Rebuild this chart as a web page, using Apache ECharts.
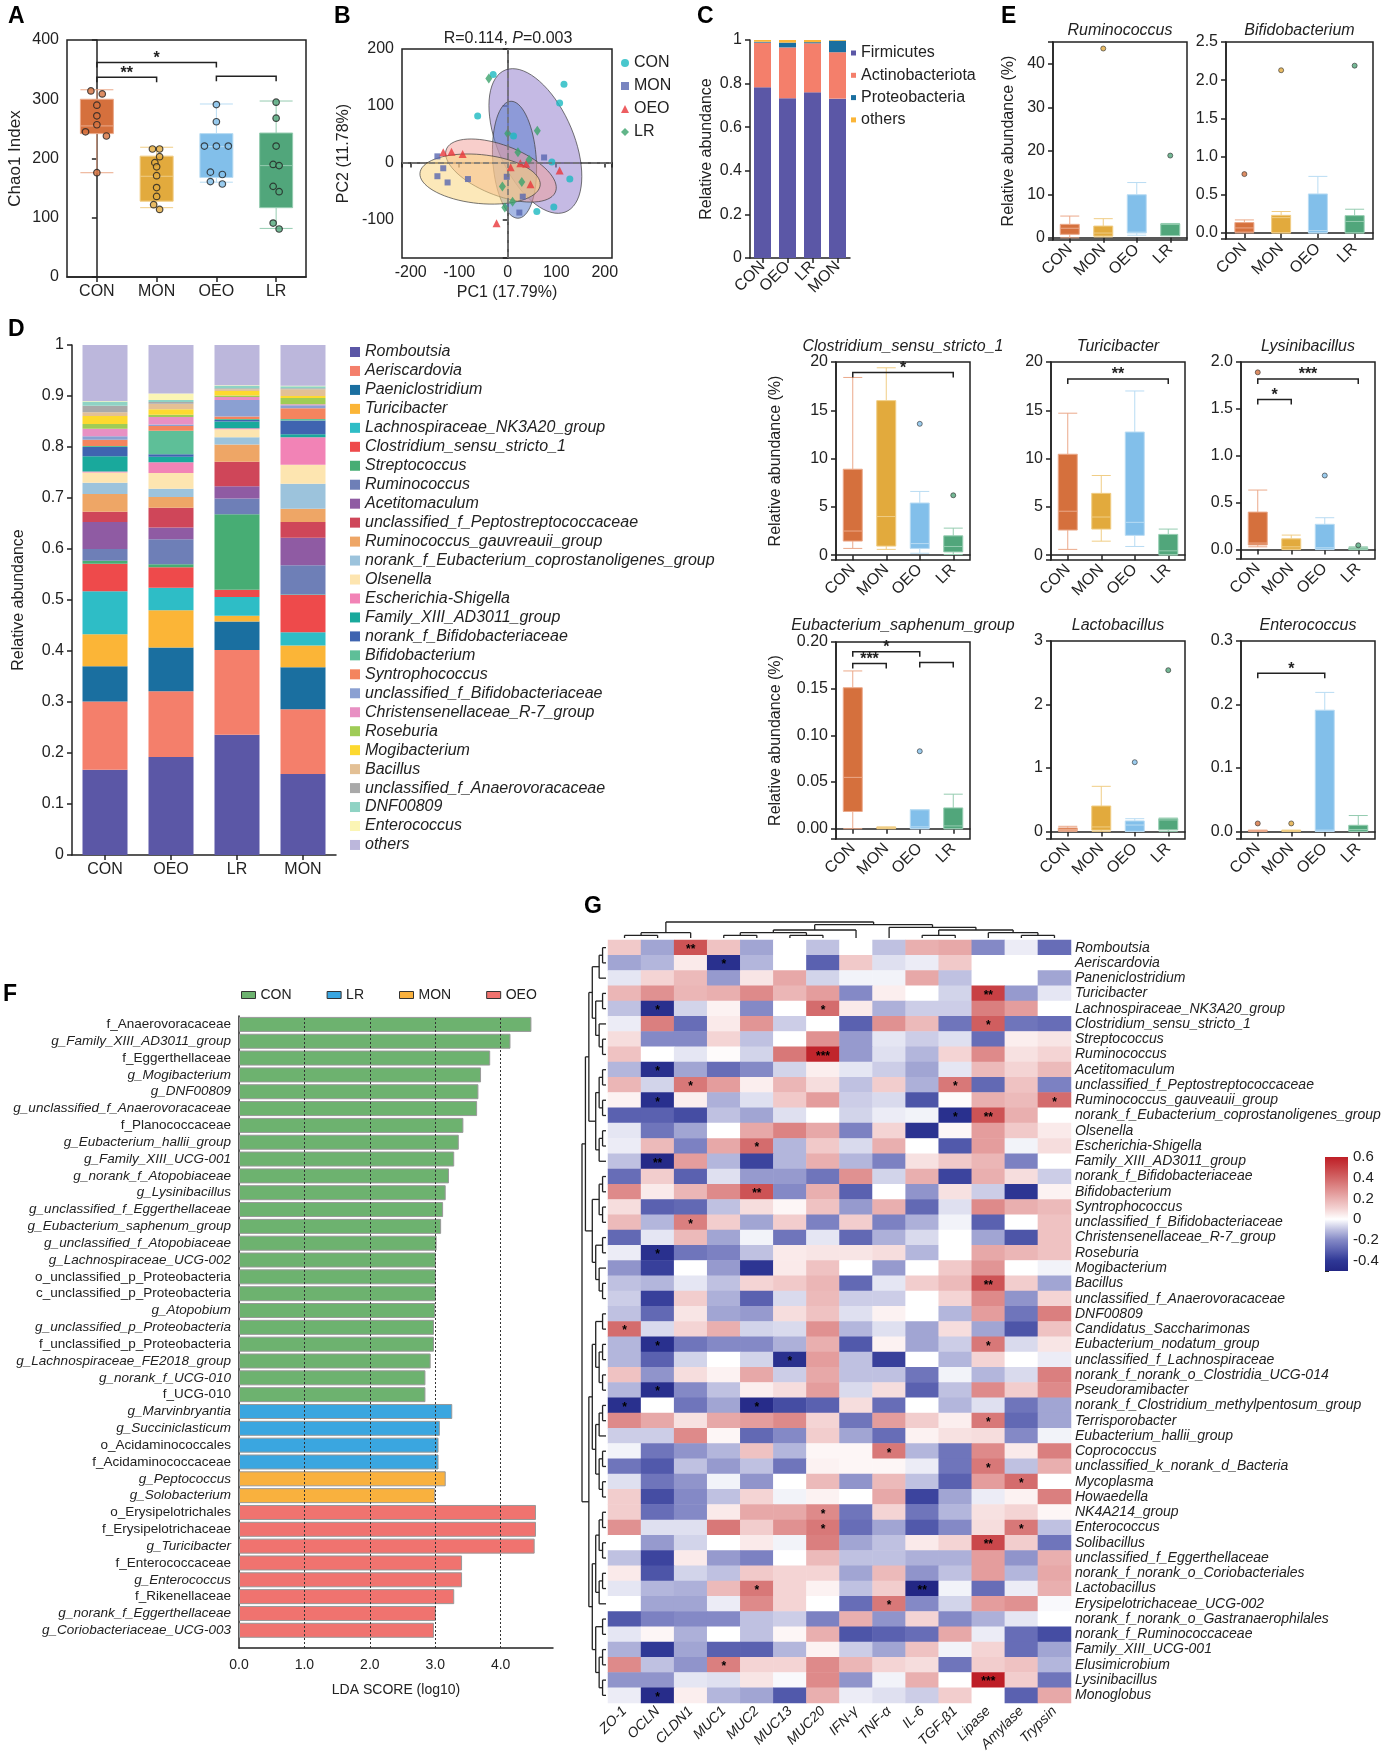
<!DOCTYPE html>
<html>
<head>
<meta charset="utf-8">
<title>Microbiota figure</title>
<script src="https://cdn.jsdelivr.net/npm/echarts@6/dist/echarts.min.js"></script>
<style>
html, body { margin: 0; padding: 0; background: #fff; }
#main { width: 1386px; height: 1760px; }
</style>
</head>
<body>
<div id="main"></div>
<script>
const FONT = '"Liberation Sans", Arial, sans-serif';
const INK = '#222';

// ---------------- data ----------------
const groups = ['CON', 'MON', 'OEO', 'LR'];
const boxFill = ['#d5703d', '#e2aa3d', '#82bfea', '#51a67b'];
const boxEdge = ['#eba98a', '#f0cd85', '#b9dcf3', '#95ccb0'];

// A: Chao1 [min, Q1, median, Q3, max]
const chaoBoxes = [[176, 242, 255, 300, 316], [117, 128, 170, 204, 219], [160, 168, 220, 242, 292], [82, 117, 188, 243, 297]];
const chaoCON = [[-0.1, 314], [0.09, 309], [0, 290], [0, 272], [0, 257], [-0.19, 245], [0.16, 238], [0, 176]];
const chaoMON = [[-0.07, 216], [0.05, 216], [0.05, 203], [-0.03, 193], [0, 186], [0, 171], [0, 151], [0, 136], [-0.05, 122], [0.05, 114]];
const chaoOEO = [[0, 291], [0, 262], [-0.2, 221], [0, 221], [0.2, 221], [-0.1, 177], [0.1, 173], [-0.1, 161], [0.1, 157]];
const chaoLR = [[0, 295], [0, 268], [0, 221], [-0.05, 190], [0.05, 188], [-0.05, 153], [0.05, 144], [-0.05, 91], [0.05, 81]];
const chaoSig = [[0, 1, 337, '**'], [0, 2, 362, '*'], [2, 3, 339, '']];

// B: PCoA
const pcoaCON = [[-30, 155], [-62, 82], [12, 47], [116, 138], [107, 105], [91, 1], [128, -29], [60, -86], [95, -78]];
const pcoaMON = [[-145, 11], [-133, -10], [-145, -24], [-124, -35], [-82, -29], [75, 9], [31, -60], [24, -88], [-2, -25]];
const pcoaOEO = [[-133, 18], [-116, 19], [-93, 15], [6, -8], [26, -1], [38, -2], [47, -38], [107, -14], [-23, -107]];
const pcoaLR = [[-39, 148], [61, 56], [0, 51], [21, 18], [44, 5], [29, -34], [-11, -42], [10, -69], [-6, -79]];
// ellipses: centre x, centre y, semi-axis u (x, y), semi-axis v (x, y)
const ellipses = [[57, 38, -40, 127, 87, -10], [14, 5, -7, 103, 45, 0], [-14, -14, 114, -28, -5, 48], [-57, -29, -124, 10, 3, 43]];
const ellipseFill = ['rgba(150,130,205,0.55)', 'rgba(95,128,205,0.55)', 'rgba(242,158,152,0.5)', 'rgba(250,214,128,0.55)'];

// C: phylum
const cGroups = ['CON', 'OEO', 'LR', 'MON'];
const phyla = ['Firmicutes', 'Actinobacteriota', 'Proteobacteria', 'others'];
const firmicutes = [0.783, 0.733, 0.760, 0.731];
const actinobacteriota = [0.205, 0.233, 0.225, 0.213];
const proteobacteria = [0.004, 0.022, 0.005, 0.053];
const phylumOthers = [0.008, 0.012, 0.010, 0.003];
const phylumColors = ['#5b57a6', '#f47f6b', '#1a6fa0', '#fbb537'];

// D: genus
const dGroups = ['CON', 'OEO', 'LR', 'MON'];
const genera = ['Romboutsia', 'Aeriscardovia', 'Paeniclostridium', 'Turicibacter', 'Lachnospiraceae_NK3A20_group',
  'Clostridium_sensu_stricto_1', 'Streptococcus', 'Ruminococcus', 'Acetitomaculum', 'unclassified_f_Peptostreptococcaceae',
  'Ruminococcus_gauvreauii_group', 'norank_f_Eubacterium_coprostanoligenes_group', 'Olsenella', 'Escherichia-Shigella',
  'Family_XIII_AD3011_group', 'norank_f_Bifidobacteriaceae', 'Bifidobacterium', 'Syntrophococcus',
  'unclassified_f_Bifidobacteriaceae', 'Christensenellaceae_R-7_group', 'Roseburia', 'Mogibacterium', 'Bacillus',
  'unclassified_f_Anaerovoracaceae', 'DNF00809', 'Enterococcus', 'others'];
const genusColors = ['#5b57a6', '#f47f6b', '#1a6fa0', '#fbb537', '#2ebdc6', '#ee4a4b', '#47ad74', '#6e7fb7', '#8f5ba3',
  '#cf4659', '#eea666', '#9cc3dc', '#fde5b0', '#f283b6', '#19a99c', '#3f64b0', '#5ebf98', '#f4845e', '#8ba0d2',
  '#e890c3', '#9fcc56', '#fdd92f', '#e3c095', '#a9a9a9', '#8fd3c4', '#fbf5b5', '#bcb7dc'];
const dCON = [.167, .134, .069, .063, .084, .054, .006, .023, .053, .020, .035, .022, .020, .002, .030, .018, .002, .012, .007, .015, .009, .016, .007, .013, .008, .001, .110];
const dOEO = [.192, .129, .086, .073, .044, .040, .006, .049, .023, .039, .021, .016, .031, .021, .011, .005, .046, .009, .003, .015, .004, .011, .011, .003, .004, .013, .095];
const dLR = [.236, .166, .056, .011, .037, .014, .148, .031, .024, .048, .034, .014, .016, .002, .013, .003, .002, .005, .032, .006, .003, .009, .003, .002, .005, .001, .079];
const dMON = [.159, .127, .082, .043, .026, .073, .001, .057, .054, .031, .026, .049, .037, .054, .006, .027, .003, .021, .006, .002, .012, .004, .013, .002, .004, .001, .080];

// E and the six genus panels: [min, Q1, median, Q3, max] per group, outliers [group, value]
const rumBoxes = [[0, 0.8, 2.2, 3.1, 5.0], [0.2, 0.4, 1.1, 2.7, 4.4], [0.6, 1.1, 1.3, 9.9, 12.7], [0.5, 0.5, 3.1, 3.2, 3.3]];
const rumOut = [[1, 43.5], [3, 18.9]];
const bifBoxes = [[0, 0.01, 0.065, 0.135, 0.17], [0, 0, 0.2, 0.23, 0.28], [0, 0, 0.03, 0.51, 0.74], [0, 0, 0.15, 0.226, 0.31]];
const bifOut = [[0, 0.77], [1, 2.13], [3, 2.19]];
const cloBoxes = [[0.7, 1.46, 2.5, 8.9, 18.4], [0.6, 0.94, 4.0, 16.0, 19.4], [0.2, 0.7, 1.2, 5.4, 6.6], [0.07, 0.34, 0.9, 2.0, 2.8]];
const cloOut = [[2, 13.6], [3, 6.2]];
const cloSig = [[0, 3, 18.9, '*']];
const turBoxes = [[0.6, 2.6, 4.55, 10.45, 14.7], [1.45, 2.7, 3.95, 6.4, 8.25], [0.9, 2.05, 3.4, 12.75, 17.0], [0, 0.07, 0.45, 2.15, 2.7]];
const turSig = [[0, 3, 18.25, '**']];
const lysBoxes = [[0.03, 0.05, 0.07, 0.40, 0.635], [0, 0.004, 0.03, 0.115, 0.155], [0, 0.004, 0.02, 0.27, 0.34], [0, 0, 0.01, 0.02, 0.03]];
const lysOut = [[0, 1.89], [2, 0.79], [3, 0.046]];
const lysSig = [[0, 3, 1.82, '***'], [0, 1, 1.60, '*']];
const eubBoxes = [[0, 0.0185, 0.055, 0.151, 0.169], [0, 0.0005, 0.001, 0.0015, 0.002], [0, 0, 0.002, 0.0204, 0.0204], [0, 0, 0.003, 0.0223, 0.037]];
const eubOut = [[2, 0.083]];
const eubSig = [[0, 2, 0.1896, '*'], [0, 1, 0.177, '***'], [2, 3, 0.178, '']];
const lacBoxes = [[0, 0.01, 0.03, 0.055, 0.08], [0, 0.02, 0.07, 0.40, 0.71], [0, 0, 0.1, 0.165, 0.2], [0, 0.025, 0.18, 0.2, 0.21]];
const lacOut = [[2, 1.09], [3, 2.54]];
const entBoxes = [[0, 0.0005, 0.001, 0.0015, 0.002], [0, 0.0005, 0.001, 0.0015, 0.002], [0, 0, 0.002, 0.191, 0.219], [0, 0, 0.003, 0.0096, 0.025]];
const entOut = [[0, 0.0125], [1, 0.0125]];
const entSig = [[0, 2, 0.249, '*']];

// F: LEfSe
const ldaLabels = ['f_Anaerovoracaceae', 'g_Family_XIII_AD3011_group', 'f_Eggerthellaceae', 'g_Mogibacterium', 'g_DNF00809',
  'g_unclassified_f_Anaerovoracaceae', 'f_Planococcaceae', 'g_Eubacterium_hallii_group', 'g_Family_XIII_UCG-001',
  'g_norank_f_Atopobiaceae', 'g_Lysinibacillus', 'g_unclassified_f_Eggerthellaceae', 'g_Eubacterium_saphenum_group',
  'g_unclassified_f_Atopobiaceae', 'g_Lachnospiraceae_UCG-002', 'o_unclassified_p_Proteobacteria',
  'c_unclassified_p_Proteobacteria', 'g_Atopobium', 'g_unclassified_p_Proteobacteria', 'f_unclassified_p_Proteobacteria',
  'g_Lachnospiraceae_FE2018_group', 'g_norank_f_UCG-010', 'f_UCG-010', 'g_Marvinbryantia', 'g_Succiniclasticum',
  'o_Acidaminococcales', 'f_Acidaminococcaceae', 'g_Peptococcus', 'g_Solobacterium', 'o_Erysipelotrichales',
  'f_Erysipelotrichaceae', 'g_Turicibacter', 'f_Enterococcaceae', 'g_Enterococcus', 'f_Rikenellaceae',
  'g_norank_f_Eggerthellaceae', 'g_Coriobacteriaceae_UCG-003'];
const ldaScores = [4.47, 4.15, 3.84, 3.70, 3.66, 3.64, 3.43, 3.36, 3.29, 3.21, 3.16, 3.12, 3.09, 3.02, 3.01, 3.01, 3.01,
  3.00, 2.98, 2.98, 2.93, 2.85, 2.85, 3.26, 3.07, 3.05, 3.05, 3.16, 3.00, 4.54, 4.54, 4.52, 3.41, 3.41, 3.29, 3.01, 2.98];
const ldaGroup = ['CON', 'CON', 'CON', 'CON', 'CON', 'CON', 'CON', 'CON', 'CON', 'CON', 'CON', 'CON', 'CON', 'CON', 'CON',
  'CON', 'CON', 'CON', 'CON', 'CON', 'CON', 'CON', 'CON', 'LR', 'LR', 'LR', 'LR', 'MON', 'MON', 'OEO', 'OEO', 'OEO',
  'OEO', 'OEO', 'OEO', 'OEO', 'OEO'];
const ldaOrder = ['CON', 'LR', 'MON', 'OEO'];
const ldaColors = {CON: '#6db26f', LR: '#3aa6e0', MON: '#f9b13e', OEO: '#f0736f'};

// G: correlation heatmap
const corrCols = ['ZO-1', 'OCLN', 'CLDN1', 'MUC1', 'MUC2', 'MUC13', 'MUC20', 'IFN-γ', 'TNF-α', 'IL-6', 'TGF-β1', 'Lipase', 'Amylase', 'Trypsin'];
const corrRows = ['Romboutsia', 'Aeriscardovia', 'Paneniclostridium', 'Turicibacter', 'Lachnospiraceae_NK3A20_group',
  'Clostridium_sensu_stricto_1', 'Streptococcus', 'Ruminococcus', 'Acetitomaculum', 'unclassified_f_Peptostreptococcaceae',
  'Ruminococcus_gauveauii_group', 'norank_f_Eubacterium_coprostanoligenes_group', 'Olsenella', 'Escherichia-Shigella',
  'Family_XIII_AD3011_group', 'norank_f_Bifidobacteriaceae', 'Bifidobacterium', 'Syntrophococcus',
  'unclassified_f_Bifidobacteriaceae', 'Christensenellaceae_R-7_group', 'Roseburia', 'Mogibacterium', 'Bacillus',
  'unclassified_f_Anaerovoracaceae', 'DNF00809', 'Candidatus_Saccharimonas', 'Eubacterium_nodatum_group',
  'unclassified_f_Lachnospiraceae', 'norank_f_norank_o_Clostridia_UCG-014', 'Pseudoramibacter',
  'norank_f_Clostridium_methylpentosum_group', 'Terrisporobacter', 'Eubacterium_hallii_group', 'Coprococcus',
  'unclassified_k_norank_d_Bacteria', 'Mycoplasma', 'Howaedella', 'NK4A214_group', 'Enterococcus', 'Solibacillus',
  'unclassified_f_Eggerthellaceae', 'norank_f_norank_o_Coriobacteriales', 'Lactobacillus', 'Erysipelotrichaceae_UCG-002',
  'norank_f_norank_o_Gastranaerophilales', 'norank_f_Ruminococcaceae', 'Family_XIII_UCG-001', 'Elusimicrobium',
  'Lysinibacillus', 'Monoglobus'];
const corrValues = [
  [0.13, -0.15, 0.45, 0.15, -0.15, 0, -0.1, 0, -0.1, 0.2, 0.22, -0.2, -0.03, -0.27],
  [-0.15, -0.12, 0.05, -0.45, -0.12, 0, -0.3, 0.13, -0.05, -0.03, 0.13, 0, 0, 0],
  [-0.04, 0.1, 0.17, -0.17, 0.06, 0.22, -0.07, -0.02, -0.02, 0.22, -0.1, 0, 0, -0.15],
  [0.18, 0.28, 0.18, 0.2, 0.3, 0.18, 0.25, -0.2, 0.04, 0, -0.07, 0.5, -0.17, -0.04],
  [-0.1, -0.45, -0.07, 0.03, -0.2, 0, 0.38, 0.05, -0.13, -0.08, -0.08, 0.33, 0.25, 0],
  [-0.03, 0.33, -0.27, 0.05, 0.27, -0.08, 0, -0.3, 0.28, 0.17, -0.25, 0.42, -0.25, -0.27],
  [0.08, -0.2, -0.2, 0.1, -0.1, 0, 0.28, -0.17, -0.04, -0.08, -0.05, -0.27, 0.04, 0.06],
  [0.15, 0, -0.04, 0.01, -0.07, 0.35, 0.58, -0.17, -0.05, -0.12, 0.1, 0.3, 0.07, 0.1],
  [-0.12, -0.45, -0.15, -0.27, -0.2, -0.07, 0.04, -0.04, -0.08, -0.15, -0.04, 0.17, 0.1, 0.17],
  [0.18, -0.07, 0.35, 0.25, 0.04, 0.18, 0.08, -0.1, 0.12, -0.13, 0.35, -0.28, 0.15, -0.22],
  [0.03, -0.45, 0.04, -0.13, -0.05, 0.13, 0.25, -0.08, -0.06, -0.33, 0.01, 0.2, 0.17, 0.38],
  [-0.3, -0.3, -0.35, -0.1, -0.15, -0.05, 0, -0.07, -0.03, -0.02, -0.45, 0.45, 0.2, 0],
  [-0.04, -0.25, -0.15, 0, 0.22, 0.32, 0.22, -0.22, 0.1, -0.43, 0.02, 0.25, 0.13, 0.05],
  [-0.03, 0.17, -0.22, 0.22, 0.38, -0.12, 0.13, -0.06, 0.2, 0, -0.32, 0.25, -0.02, 0.08],
  [-0.1, -0.48, 0.25, -0.12, -0.37, -0.12, 0.2, -0.12, -0.22, 0.07, 0.13, 0.18, -0.22, 0],
  [-0.27, 0.12, -0.3, -0.05, -0.17, -0.17, -0.25, 0.28, -0.07, 0.2, -0.37, 0.2, 0.08, -0.08],
  [0.3, 0.05, 0.18, 0.3, 0.45, -0.2, 0.2, -0.3, 0, -0.18, 0.07, -0.08, -0.42, 0.03],
  [0.08, -0.3, -0.28, -0.1, 0.08, 0.02, 0.15, -0.17, 0.2, -0.28, -0.05, 0.3, 0.2, 0.17],
  [0.17, -0.12, 0.33, 0.12, -0.15, 0.12, -0.22, 0.12, -0.22, -0.13, -0.02, -0.3, 0, 0.15],
  [-0.28, -0.04, 0.17, -0.15, -0.02, -0.25, -0.04, -0.28, -0.13, -0.06, 0, -0.15, -0.33, 0.15],
  [-0.03, -0.45, -0.25, -0.22, -0.1, 0.05, 0.06, 0.06, 0.08, -0.12, 0, 0.22, 0.18, 0.15],
  [-0.18, -0.38, 0, -0.17, -0.42, 0.05, 0.15, 0, -0.17, 0, 0.13, 0.27, 0, -0.02],
  [-0.1, -0.12, -0.04, -0.1, 0.1, 0.13, 0.18, -0.28, -0.04, 0.12, 0.17, 0.45, 0.12, -0.15],
  [-0.08, -0.38, 0.12, -0.13, -0.3, -0.06, 0.17, -0.08, -0.08, 0, 0.1, 0.3, -0.18, 0.1],
  [-0.1, -0.28, 0.06, -0.15, -0.17, 0.08, 0.15, -0.05, 0.03, 0, -0.12, 0.25, -0.25, 0.33],
  [0.38, -0.06, 0.1, 0.2, -0.07, -0.06, 0.28, -0.12, -0.05, -0.15, 0.08, -0.15, -0.33, 0.15],
  [-0.12, -0.45, -0.25, -0.2, -0.2, -0.13, 0.2, -0.32, 0.03, -0.15, -0.08, 0.35, -0.06, 0.06],
  [-0.12, -0.3, -0.07, 0, -0.07, -0.45, 0.25, -0.1, -0.38, 0, -0.12, 0.1, 0, -0.03],
  [0.15, -0.18, 0.08, 0.03, 0.22, -0.08, 0.22, -0.1, -0.1, -0.25, -0.02, -0.12, -0.06, 0.33],
  [-0.12, -0.45, -0.2, -0.1, 0.04, 0.08, 0.25, -0.06, 0.08, -0.3, -0.1, 0.3, 0.12, 0.3],
  [-0.45, 0, -0.25, -0.15, -0.47, -0.35, -0.3, 0.08, -0.27, 0, -0.12, -0.05, -0.25, -0.15],
  [0.3, 0.22, 0.07, 0.22, 0.25, 0.3, 0.1, -0.25, 0.25, 0.12, 0.04, 0.35, -0.28, -0.15],
  [-0.08, -0.08, 0.3, 0.02, -0.28, -0.2, 0.12, -0.15, -0.27, 0.03, 0.07, 0.08, -0.2, -0.02],
  [-0.02, -0.25, -0.18, -0.12, 0.15, -0.12, 0.02, 0.02, 0.35, -0.12, -0.25, 0.3, 0.05, 0.33],
  [-0.25, -0.32, -0.1, -0.17, -0.1, -0.25, 0.03, 0.02, 0.02, -0.03, -0.25, 0.35, -0.1, 0.2],
  [-0.05, -0.25, -0.18, -0.02, -0.18, 0, 0.17, -0.18, 0.17, -0.1, -0.3, 0.25, 0.38, 0],
  [0.12, -0.35, -0.2, -0.1, 0.1, -0.02, 0.03, 0, 0.22, -0.37, -0.15, -0.03, 0.03, 0.33],
  [0.12, -0.27, -0.2, 0.05, 0.22, 0.22, 0.3, -0.25, 0.1, -0.25, -0.12, 0.07, 0.1, 0.02],
  [0.28, -0.05, -0.05, 0.35, 0.12, 0.28, 0.35, -0.27, -0.15, -0.32, -0.2, 0.08, 0.35, -0.1],
  [0, -0.17, -0.07, 0, 0.05, -0.02, 0.33, -0.15, -0.1, 0.05, 0.1, 0.48, 0.12, -0.25],
  [-0.1, -0.37, 0.05, -0.17, -0.22, 0, 0.17, -0.1, -0.1, -0.13, -0.13, 0.25, -0.18, 0.2],
  [0.05, -0.33, -0.07, -0.1, 0.13, 0.1, 0.1, -0.15, 0.17, -0.18, -0.1, 0.25, -0.12, 0.22],
  [-0.04, -0.12, -0.13, 0.17, 0.35, 0.1, 0.03, -0.1, 0.12, -0.5, -0.02, -0.27, -0.03, 0.2],
  [0, -0.15, -0.15, -0.03, 0.3, 0.1, 0, -0.27, 0.35, -0.2, -0.07, 0.25, 0.28, -0.01],
  [-0.32, -0.22, -0.2, -0.2, -0.1, -0.08, -0.22, 0.2, -0.18, 0.1, -0.2, -0.13, -0.04, 0],
  [-0.04, 0.02, -0.13, 0, -0.1, 0.02, 0.2, -0.33, -0.3, -0.27, 0.22, -0.03, -0.27, -0.35],
  [-0.13, -0.4, -0.15, -0.3, -0.3, -0.12, 0.03, -0.08, -0.15, 0.15, -0.02, 0.1, -0.27, -0.15],
  [0.3, -0.1, -0.18, 0.33, 0.1, 0.1, 0.3, 0.18, 0.1, 0.08, -0.25, 0.12, 0.15, -0.12],
  [-0.18, -0.18, -0.04, -0.05, 0.06, -0.01, 0.3, -0.18, -0.02, 0.2, 0, 0.6, 0.12, -0.25],
  [-0.03, -0.47, 0.04, -0.12, -0.15, -0.32, 0.2, -0.03, -0.05, -0.08, 0.12, 0, -0.3, 0.22]
];
// [row, column, stars]
const corrStars = [[0, 2, '**'], [1, 3, '*'], [3, 11, '**'], [4, 1, '*'], [4, 6, '*'], [5, 11, '*'], [7, 6, '***'],
  [8, 1, '*'], [9, 2, '*'], [9, 10, '*'], [10, 1, '*'], [10, 13, '*'], [11, 10, '*'], [11, 11, '**'], [13, 4, '*'],
  [14, 1, '**'], [16, 4, '**'], [18, 2, '*'], [20, 1, '*'], [22, 11, '**'], [25, 0, '*'], [26, 1, '*'], [26, 11, '*'],
  [27, 5, '*'], [29, 1, '*'], [30, 0, '*'], [30, 4, '*'], [31, 11, '*'], [33, 8, '*'], [34, 11, '*'], [35, 12, '*'],
  [37, 6, '*'], [38, 6, '*'], [38, 12, '*'], [39, 11, '**'], [42, 4, '*'], [42, 9, '**'], [43, 8, '*'], [47, 3, '*'],
  [48, 11, '***'], [49, 1, '*']];
const heatColors = ['#232785', '#2f3896', '#5a61b0', '#8489c6', '#bfc1e1', '#ffffff', '#f4d4d4', '#e9afaf', '#de8a8a', '#d26566', '#c84044', '#be1e26'];
const heatMin = -0.5, heatMax = 0.6;
// cluster trees (leaf = row / column index)
const rA = [[[0, 1], 2], [[3, 4], [5, [6, 7]]]];
const rB = [[[8, 9], [10, 11]], [[12, 13], 14]];
const rC = [[[15, 16], [17, 18]], [[19, 20], [21, [22, 23]]]];
const rD = [[24, 25], [[26, 27], [28, 29]]];
const rE = [[[30, 31], 32], [[33, 34], [35, 36]]];
const rF = [[[37, 38], [39, 40]], [[41, 42], 43]];
const rG = [[44, 45], [[46, 47], [48, 49]]];
const rowTree = [[[rA, rB], rC], [[rD, rE], [rF, rG]]];
const colTree = [[[0, 1], 2], [[[[3, 4], [5, 6]], 7], [8, [[9, 10], [11, [12, 13]]]]]];

// ---------------- builders ----------------
const grids = [], xAxes = [], yAxes = [], series = [], legends = [], graphics = [];
const lineS = {show: true, lineStyle: {color: INK, width: 1.5}};
const tickS = {show: true, length: 5, lineStyle: {color: INK, width: 1.5}};

function tickFmt(step, dec) {
  return function (v) {
    const k = v / step;
    if (Math.abs(k - Math.round(k)) > 1e-6) return '';
    return v.toFixed(dec);
  };
}
function textEl(x, y, text, st) {
  graphics.push({type: 'text', x: x, y: y, silent: true,
    style: Object.assign({text: text, fill: INK, fontFamily: FONT, fontSize: 16, align: 'center', verticalAlign: 'middle'}, st || {})});
}
function bracketSeries(xi, yi, list) {
  return {
    type: 'custom', xAxisIndex: xi, yAxisIndex: yi, z: 5, silent: true,
    data: list.map(b => [b[0], b[1], b[2]]), encode: {x: [0, 1], y: 2},
    renderItem: function (params, api) {
      const b = list[params.dataIndex];
      const p1 = api.coord([b[0], b[2]]), p2 = api.coord([b[1], b[2]]);
      return {type: 'group', children: [
        {type: 'polyline', shape: {points: [[p1[0], p1[1] + 5], p1, p2, [p2[0], p2[1] + 5]]}, style: {stroke: INK, lineWidth: 1.5, fill: null}},
        {type: 'text', style: {text: b[3], x: (p1[0] + p2[0]) / 2, y: p1[1] + 4, align: 'center', verticalAlign: 'bottom', fontSize: 16, fontWeight: 'bold', fill: INK, fontFamily: FONT}}
      ]};
    }
  };
}
function boxPanel(p) {
  const gi = grids.push({left: p.x, top: p.y, width: p.w, height: p.h, show: true, borderColor: INK, borderWidth: 1.5}) - 1;
  const xi = xAxes.push({type: 'category', gridIndex: gi, data: groups, axisLine: lineS,
    axisTick: Object.assign({alignWithLabel: true}, tickS),
    axisLabel: {color: INK, fontSize: 16, rotate: p.rotate || 0, margin: 7, interval: 0}}) - 1;
  const yi = yAxes.push({type: 'value', gridIndex: gi, min: p.min, max: p.max, minInterval: p.step, maxInterval: p.step,
    splitLine: {show: false}, axisLine: lineS, axisTick: tickS,
    axisLabel: {color: INK, fontSize: 16, formatter: tickFmt(p.step, p.dec)},
    name: p.yName || '', nameLocation: 'middle', nameGap: p.nameGap || 40, nameTextStyle: {fontSize: p.nameSize || 16, color: INK}}) - 1;
  series.push({type: 'boxplot', xAxisIndex: xi, yAxisIndex: yi, boxWidth: [p.boxW, p.boxW], silent: true,
    data: p.boxes.map((b, i) => ({value: b, itemStyle: {color: boxFill[i], borderColor: boxEdge[i], borderWidth: 1}}))});
  if (p.outliers) {
    series.push({type: 'scatter', xAxisIndex: xi, yAxisIndex: yi, symbolSize: 5, silent: true, z: 4,
      data: p.outliers.map(o => ({value: o, itemStyle: {color: boxFill[o[0]], borderColor: '#333', borderWidth: 0.8}}))});
  }
  if (p.sig) series.push(bracketSeries(xi, yi, p.sig));
  if (p.title) textEl(p.x + p.w / 2, p.titleY, p.title, {fontStyle: 'italic'});
  return gi;
}

// ---------------- A ----------------
const giA = boxPanel({x: 67, y: 40, w: 239, h: 237, min: 0, max: 400, step: 100, dec: 0, boxes: chaoBoxes, boxW: 33,
  yName: 'Chao1 Index', nameGap: 43, nameSize: 17, sig: chaoSig});
const xiAv = xAxes.push({type: 'value', gridIndex: giA, min: -0.5, max: 3.5, show: false}) - 1;
const yiA = yAxes.length - 1;
[chaoCON, chaoMON, chaoOEO, chaoLR].forEach((pts, g) => {
  series.push({type: 'scatter', xAxisIndex: xiAv, yAxisIndex: yiA, symbolSize: 6.5, z: 4, silent: true,
    itemStyle: {color: boxFill[g], borderColor: INK, borderWidth: 1.2},
    data: pts.map(p => [g + p[0], p[1]])});
});

// ---------------- B ----------------
const giB = grids.push({left: 402, top: 49, width: 210, height: 209, show: true, borderColor: INK, borderWidth: 1.5}) - 1;
const xiB = xAxes.push({type: 'value', gridIndex: giB, min: -218, max: 215, minInterval: 100, maxInterval: 100,
  splitLine: {show: false}, axisLine: lineS, axisTick: tickS,
  axisLabel: {color: INK, fontSize: 16, formatter: tickFmt(100, 0), margin: 7},
  name: 'PC1 (17.79%)', nameLocation: 'middle', nameGap: 27, nameTextStyle: {fontSize: 16, color: INK}}) - 1;
const yiB = yAxes.push({type: 'value', gridIndex: giB, min: -168, max: 200, minInterval: 100, maxInterval: 100,
  splitLine: {show: false}, axisLine: lineS, axisTick: tickS,
  axisLabel: {color: INK, fontSize: 16, formatter: tickFmt(100, 0)},
  name: 'PC2 (11.78%)', nameLocation: 'middle', nameGap: 50, nameTextStyle: {fontSize: 16, color: INK}}) - 1;
series.push({type: 'custom', xAxisIndex: xiB, yAxisIndex: yiB, silent: true, data: ellipses,
  renderItem: function (params, api) {
    const e = ellipses[params.dataIndex];
    const pts = [];
    for (let k = 0; k < 72; k++) {
      const t = k / 72 * Math.PI * 2;
      pts.push(api.coord([e[0] + e[2] * Math.cos(t) + e[4] * Math.sin(t), e[1] + e[3] * Math.cos(t) + e[5] * Math.sin(t)]));
    }
    return {type: 'polygon', shape: {points: pts}, style: {fill: ellipseFill[params.dataIndex], stroke: 'rgba(60,60,60,0.7)', lineWidth: 1}};
  }});
const pcoaSets = [['CON', pcoaCON, 'circle', '#1cb9c0', 7], ['MON', pcoaMON, 'rect', '#5866b0', 6], ['OEO', pcoaOEO, 'triangle', '#e8363a', 8], ['LR', pcoaLR, 'diamond', '#3ba36b', [7, 10]]];
pcoaSets.forEach((s, i) => {
  const ser = {type: 'scatter', name: s[0], xAxisIndex: xiB, yAxisIndex: yiB, data: s[1], symbol: s[2], symbolSize: s[4],
    itemStyle: {color: s[3]}, z: 4, silent: true};
  if (i === 0) {
    ser.markLine = {silent: true, symbol: 'none', label: {show: false}, lineStyle: {type: 'dashed', color: '#777', width: 1.5},
      data: [{xAxis: 0}, {yAxis: 0}]};
  }
  series.push(ser);
});
legends.push({data: ['CON', 'MON', 'OEO', 'LR'], left: 621, top: 55, orient: 'vertical', itemWidth: 8, itemHeight: 8, itemGap: 7,
  padding: 0, selectedMode: false, textStyle: {fontSize: 16, color: INK, lineHeight: 16}});
textEl(508, 39, 'R=0.114, {i|P}=0.003', {rich: {i: {fontStyle: 'italic', fontSize: 16, fontFamily: FONT}}});

// ---------------- C ----------------
const giC = grids.push({left: 750, top: 40, width: 100, height: 218}) - 1;
const xiC = xAxes.push({type: 'category', gridIndex: giC, data: cGroups, axisLine: lineS,
  axisTick: Object.assign({alignWithLabel: true}, tickS), axisLabel: {color: INK, fontSize: 16, rotate: 45, margin: 6, interval: 0}}) - 1;
const yiC = yAxes.push({type: 'value', gridIndex: giC, min: 0, max: 1, interval: 0.2, splitLine: {show: false},
  axisLine: lineS, axisTick: tickS, axisLabel: {color: INK, fontSize: 16},
  name: 'Relative abundance', nameLocation: 'middle', nameGap: 35, nameTextStyle: {fontSize: 16, color: INK}}) - 1;
[firmicutes, actinobacteriota, proteobacteria, phylumOthers].forEach((vals, i) => {
  series.push({type: 'bar', name: 'C-' + phyla[i], stack: 'phylum', xAxisIndex: xiC, yAxisIndex: yiC, barWidth: 17,
    data: vals, itemStyle: {color: phylumColors[i]}, silent: true});
});
legends.push({data: phyla.map(n => 'C-' + n), formatter: n => n.slice(2), left: 851, top: 45, orient: 'vertical',
  icon: 'rect', itemWidth: 5, itemHeight: 5, itemGap: 6.3, padding: 0, selectedMode: false,
  textStyle: {fontSize: 16, color: INK, lineHeight: 16}});

// ---------------- E ----------------
boxPanel({x: 1053, y: 42, w: 134, h: 198, min: -0.5, max: 45, step: 10, dec: 0, boxes: rumBoxes, outliers: rumOut, boxW: 19,
  rotate: 45, yName: 'Relative abundance (%)', nameGap: 36, title: 'Ruminococcus', titleY: 31});
boxPanel({x: 1226, y: 42, w: 147, h: 197, min: -0.08, max: 2.5, step: 0.5, dec: 1, boxes: bifBoxes, outliers: bifOut, boxW: 19,
  rotate: 45, title: 'Bifidobacterium', titleY: 31});

// ---------------- six genus panels ----------------
boxPanel({x: 836, y: 362, w: 134, h: 198, min: -0.5, max: 20, step: 5, dec: 0, boxes: cloBoxes, outliers: cloOut, sig: cloSig,
  boxW: 19, rotate: 45, yName: 'Relative abundance (%)', nameGap: 52, title: 'Clostridium_sensu_stricto_1', titleY: 347});
boxPanel({x: 1051, y: 362, w: 134, h: 198, min: -0.5, max: 20, step: 5, dec: 0, boxes: turBoxes, sig: turSig,
  boxW: 19, rotate: 45, title: 'Turicibacter', titleY: 347});
boxPanel({x: 1241, y: 362, w: 134, h: 197, min: -0.1, max: 2.0, step: 0.5, dec: 1, boxes: lysBoxes, outliers: lysOut, sig: lysSig,
  boxW: 19, rotate: 45, title: 'Lysinibacillus', titleY: 347});
boxPanel({x: 836, y: 642, w: 134, h: 197, min: -0.011, max: 0.2, step: 0.05, dec: 2, boxes: eubBoxes, outliers: eubOut, sig: eubSig,
  boxW: 19, rotate: 45, yName: 'Relative abundance (%)', nameGap: 52, title: 'Eubacterium_saphenum_group', titleY: 626});
boxPanel({x: 1051, y: 641, w: 134, h: 198, min: -0.12, max: 3, step: 1, dec: 0, boxes: lacBoxes, outliers: lacOut,
  boxW: 19, rotate: 45, title: 'Lactobacillus', titleY: 626});
boxPanel({x: 1241, y: 641, w: 134, h: 198, min: -0.012, max: 0.3, step: 0.1, dec: 1, boxes: entBoxes, outliers: entOut, sig: entSig,
  boxW: 19, rotate: 45, title: 'Enterococcus', titleY: 626});

// ---------------- D ----------------
const giD = grids.push({left: 72, top: 345, width: 264, height: 510}) - 1;
const xiD = xAxes.push({type: 'category', gridIndex: giD, data: dGroups, axisLine: lineS,
  axisTick: Object.assign({alignWithLabel: true}, tickS), axisLabel: {color: INK, fontSize: 16, margin: 7, interval: 0}}) - 1;
const yiD = yAxes.push({type: 'value', gridIndex: giD, min: 0, max: 1, interval: 0.1, splitLine: {show: false},
  axisLine: lineS, axisTick: tickS, axisLabel: {color: INK, fontSize: 16},
  name: 'Relative abundance', nameLocation: 'middle', nameGap: 45, nameTextStyle: {fontSize: 16, color: INK}}) - 1;
genera.forEach((g, j) => {
  series.push({type: 'bar', name: g, stack: 'genus', xAxisIndex: xiD, yAxisIndex: yiD, barWidth: 45, silent: true,
    data: [dCON[j], dOEO[j], dLR[j], dMON[j]], itemStyle: {color: genusColors[j]}});
});
legends.push({data: genera, left: 350, top: 344, orient: 'vertical', icon: 'rect', itemWidth: 10, itemHeight: 10, itemGap: 2.96,
  padding: 0, selectedMode: false, textStyle: {fontSize: 16, fontStyle: 'italic', color: INK, lineHeight: 16}});

// ---------------- F ----------------
const giF = grids.push({left: 239, top: 1016, width: 314, height: 622.7}) - 1;
const xiF = xAxes.push({type: 'value', gridIndex: giF, min: 0, max: 4.8, show: false}) - 1;
const yiF = yAxes.push({type: 'category', gridIndex: giF, data: ldaLabels, inverse: true, axisLine: {show: false}, axisTick: {show: false},
  axisLabel: {margin: 8, interval: 0, formatter: v => (v.indexOf('g_') === 0 ? '{i|' + v + '}' : '{n|' + v + '}'),
    rich: {i: {fontStyle: 'italic', fontSize: 13.5, color: INK, fontFamily: FONT}, n: {fontSize: 13.5, color: INK, fontFamily: FONT}}}}) - 1;
ldaOrder.forEach(g => {
  series.push({type: 'bar', name: 'F-' + g, stack: 'lda', xAxisIndex: xiF, yAxisIndex: yiF, barWidth: 15, silent: true,
    itemStyle: {color: ldaColors[g], borderColor: '#999', borderWidth: 1},
    data: ldaScores.map((v, i) => (ldaGroup[i] === g ? v : '-'))});
});
const giF2 = grids.push({left: 239, top: 1016, width: 314, height: 632}) - 1;
const xiF2 = xAxes.push({type: 'value', gridIndex: giF2, min: 0, max: 4.8, minInterval: 1, maxInterval: 1, splitLine: {show: false},
  axisLine: lineS, axisTick: {show: false}, axisLabel: {color: INK, fontSize: 14, margin: 10, formatter: tickFmt(1, 1)},
  name: 'LDA SCORE (log10)', nameLocation: 'middle', nameGap: 35, nameTextStyle: {fontSize: 14, color: INK}}) - 1;
const yiF2 = yAxes.push({type: 'value', gridIndex: giF2, min: 0, max: 1, axisLine: lineS, axisTick: {show: false},
  axisLabel: {show: false}, splitLine: {show: false}}) - 1;
series.push({type: 'scatter', xAxisIndex: xiF2, yAxisIndex: yiF2, data: [[0, 0]], symbolSize: 0, silent: true,
  markLine: {silent: true, symbol: 'none', label: {show: false}, lineStyle: {type: [2, 2], color: '#333', width: 1},
    data: [{xAxis: 1}, {xAxis: 2}, {xAxis: 3}, {xAxis: 4}]}});
legends.push({data: ldaOrder.map(g => 'F-' + g), formatter: n => n.slice(2), left: 241, top: 988, icon: 'rect',
  itemWidth: 14, itemHeight: 7, itemGap: 35, padding: 0, selectedMode: false,
  itemStyle: {borderColor: '#333', borderWidth: 1}, textStyle: {fontSize: 14, color: INK}});

// ---------------- G ----------------
const starMap = {};
corrStars.forEach(s => { starMap[s[0] + '-' + s[1]] = s[2]; });
const heatData = [];
corrValues.forEach((row, r) => row.forEach((v, c) => heatData.push([c, r, v, starMap[r + '-' + c] || ''])));
const giG = grids.push({left: 608, top: 940, width: 463, height: 763}) - 1;
const xiG = xAxes.push({type: 'category', gridIndex: giG, data: corrCols, axisLine: {show: false}, axisTick: {show: false},
  axisLabel: {rotate: 45, fontSize: 14, fontStyle: 'italic', color: INK, margin: 6, interval: 0}}) - 1;
const yiG = yAxes.push({type: 'category', gridIndex: giG, data: corrRows, inverse: true, position: 'right',
  axisLine: {show: false}, axisTick: {show: false},
  axisLabel: {fontSize: 14, fontStyle: 'italic', color: INK, margin: 4, interval: 0}}) - 1;
const heatIndex = series.push({type: 'heatmap', xAxisIndex: xiG, yAxisIndex: yiG, data: heatData, silent: true,
  label: {show: true, formatter: p => p.data[3], fontSize: 12, fontWeight: 'bold', color: '#000', offset: [0, 2]}}) - 1;

function treeSegments(tree) {
  const segs = [];
  (function walk(n) {
    if (typeof n === 'number') return [n, 0];
    const a = walk(n[0]), b = walk(n[1]);
    const h = Math.max(a[1], b[1]) + 1;
    segs.push([a[0], a[1], a[0], h], [a[0], h, b[0], h], [b[0], b[1], b[0], h]);
    return [(a[0] + b[0]) / 2, h];
  })(tree);
  return segs;
}
function dendroSeries(xi, yi, segs, rowMode) {
  return {type: 'custom', xAxisIndex: xi, yAxisIndex: yi, silent: true, data: segs,
    encode: rowMode ? {x: [1, 3], y: [0, 2]} : {x: [0, 2], y: [1, 3]},
    renderItem: function (params, api) {
      const s = segs[params.dataIndex];
      const p1 = rowMode ? api.coord([s[1], s[0]]) : api.coord([s[0], s[1]]);
      const p2 = rowMode ? api.coord([s[3], s[2]]) : api.coord([s[2], s[3]]);
      return {type: 'line', shape: {x1: p1[0], y1: p1[1], x2: p2[0], y2: p2[1]}, style: {stroke: INK, lineWidth: 1.3}};
    }};
}
const rowSegs = treeSegments(rowTree);
const rowH = Math.max.apply(null, rowSegs.map(s => s[3]));
const giRD = grids.push({left: 582, top: 940, width: 24, height: 763}) - 1;
const xiRD = xAxes.push({type: 'value', gridIndex: giRD, min: 0, max: rowH, inverse: true, show: false}) - 1;
const yiRD = yAxes.push({type: 'value', gridIndex: giRD, min: -0.5, max: 49.5, inverse: true, show: false}) - 1;
series.push(dendroSeries(xiRD, yiRD, rowSegs, true));
const colSegs = treeSegments(colTree);
const colH = Math.max.apply(null, colSegs.map(s => s[3]));
const giCD = grids.push({left: 608, top: 922, width: 463, height: 16}) - 1;
const xiCD = xAxes.push({type: 'value', gridIndex: giCD, min: -0.5, max: 13.5, show: false}) - 1;
const yiCD = yAxes.push({type: 'value', gridIndex: giCD, min: 0, max: colH, show: false}) - 1;
series.push(dendroSeries(xiCD, yiCD, colSegs, false));

// colour bar
const giCB = grids.push({left: 1325, top: 1157, width: 23, height: 114}) - 1;
const xiCB = xAxes.push({type: 'value', gridIndex: giCB, min: 0, max: 1, show: false}) - 1;
const yiCB = yAxes.push({type: 'value', gridIndex: giCB, min: heatMin, max: heatMax, minInterval: 0.2, maxInterval: 0.2,
  position: 'right', splitLine: {show: false}, axisLine: {show: false},
  axisTick: {show: true, length: 4, lineStyle: {color: INK}},
  axisLabel: {fontSize: 15, color: INK, margin: 5, formatter: v => {
    const k = v / 0.2;
    if (Math.abs(k - Math.round(k)) > 1e-6) return '';
    return Math.abs(v) < 1e-9 ? '0' : String(Math.round(v * 10) / 10);
  }}}) - 1;
series.push({type: 'custom', xAxisIndex: xiCB, yAxisIndex: yiCB, silent: true, data: [[0, heatMin, 1, heatMax]],
  encode: {x: [0, 2], y: [1, 3]},
  renderItem: function (params, api) {
    const top = api.coord([0, heatMax]), bot = api.coord([1, heatMin]);
    const stops = heatColors.slice().reverse().map((c, i) => ({offset: i / (heatColors.length - 1), color: c}));
    return {type: 'rect', shape: {x: top[0], y: top[1], width: bot[0] - top[0], height: bot[1] - top[1]},
      style: {fill: new echarts.graphic.LinearGradient(0, 0, 0, 1, stops)}};
  }});

// panel letters
[['A', 8, 5], ['B', 334, 5], ['C', 697, 5], ['E', 1001, 5], ['D', 8, 318], ['F', 3, 983], ['G', 584, 895]].forEach(l => {
  textEl(l[1], l[2], l[0], {fontSize: 23, fontWeight: 'bold', align: 'left', verticalAlign: 'top', fill: '#000'});
});

const chart = echarts.init(document.getElementById('main'), null, {renderer: 'canvas'});
chart.setOption({
  animation: false,
  backgroundColor: '#ffffff',
  textStyle: {fontFamily: FONT, color: INK},
  grid: grids,
  xAxis: xAxes,
  yAxis: yAxes,
  legend: legends,
  visualMap: [{type: 'continuous', show: false, seriesIndex: heatIndex, dimension: 2, min: heatMin, max: heatMax,
    inRange: {color: heatColors}}],
  graphic: {elements: graphics},
  series: series
});
</script>
</body>
</html>
